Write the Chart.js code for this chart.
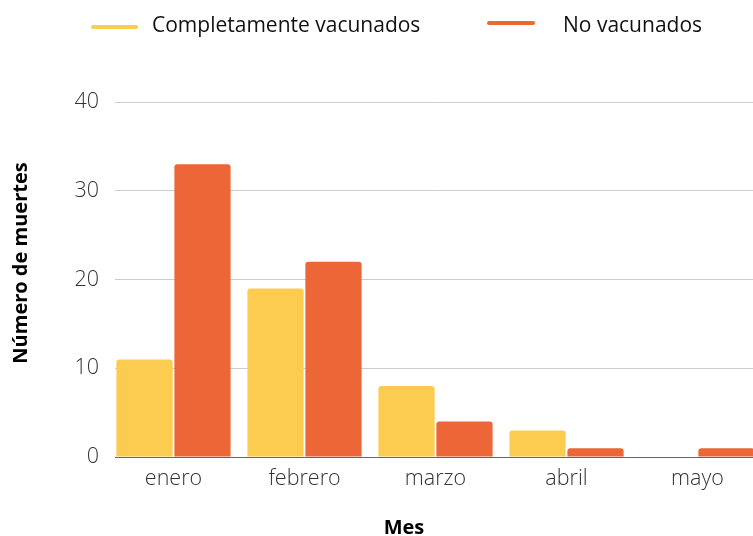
<!DOCTYPE html>
<html>
<head>
<meta charset="utf-8">
<script src="https://cdn.jsdelivr.net/npm/chart.js@4"></script>
<style>
  html, body { margin: 0; padding: 0; background: #fff; overflow: hidden; }
  #wrap { width: 770px; height: 536px; position: relative; }
</style>
</head>
<body>
<div id="wrap"><canvas id="grafico"></canvas></div>
<script>
const meses = ["enero", "febrero", "marzo", "abril", "mayo"];
const vacunados = [11, 19, 8, 3, 0];
const noVacunados = [33, 22, 4, 1, 1];
const etiquetasSeries = ["Completamente vacunados", "No vacunados"];
const ticksY = [0, 10, 20, 30, 40];
const tituloY = "Número de muertes";
const tituloX = "Mes";

const amarillo = "#FCCC50";
const naranja = "#EC6638";

// las lineas de la cuadricula empiezan un poco a la derecha del area
const recorteRejilla = {
    id: "recorteRejilla",
    beforeDatasetsDraw(chart) {
        const ctx = chart.ctx;
        const a = chart.chartArea;
        ctx.save();
        ctx.fillStyle = "#fff";
        ctx.fillRect(a.left - 1, a.top - 2, 8, a.bottom - a.top + 4);
        ctx.restore();
    }
};

// leyenda dibujada a mano (lineas cortas + texto) y titulos de ejes
const leyendaPlugin = {
    id: "leyendaLinea",
    afterDraw(chart) {
        const ctx = chart.ctx;
        const items = [
            {x1: 93, x2: 136, yl: 27, xt: 152},
            {x1: 489, x2: 533, yl: 23, xt: 563}
        ];
        ctx.save();
        chart.data.datasets.forEach((ds, i) => {
            const it = items[i];
            ctx.strokeStyle = ds.backgroundColor;
            ctx.lineWidth = 4;
            ctx.lineCap = "round";
            ctx.beginPath();
            ctx.moveTo(it.x1, it.yl);
            ctx.lineTo(it.x2, it.yl);
            ctx.stroke();
            ctx.fillStyle = "#111";
            ctx.font = "21px 'Open Sans'";
            ctx.textAlign = "left";
            ctx.textBaseline = "alphabetic";
            ctx.fillText(ds.label, it.xt, 32);
        });

        ctx.fillStyle = "#000";
        ctx.font = "bold 20px 'Open Sans'";
        ctx.textAlign = "center";
        ctx.fillText(tituloX, 404, 534);

        ctx.translate(27, 263);
        ctx.rotate(-Math.PI / 2);
        ctx.fillText(tituloY, 0, 0);
        ctx.restore();
    }
};

new Chart("grafico", {
    type: "bar",
    data: {
        labels: meses,
        datasets: [{
            label: etiquetasSeries[0],
            data: vacunados,
            backgroundColor: amarillo,
            borderRadius: 3,
            barPercentage: 0.97,
            categoryPercentage: 0.885
        }, {
            label: etiquetasSeries[1],
            data: noVacunados,
            backgroundColor: naranja,
            borderRadius: 3,
            barPercentage: 0.97,
            categoryPercentage: 0.885
        }]
    },
    options: {
        responsive: true,
        maintainAspectRatio: false,
        animation: false,
        layout: {padding: {top: 102, right: 7, bottom: 0, left: 0}},
        plugins: {
            legend: {display: false},
            tooltip: {enabled: false}
        },
        scales: {
            x: {
                grid: {display: false, drawTicks: false},
                border: {display: true, color: "#666", width: 1},
                ticks: {
                    color: "#333",
                    font: {family: "'Open Sans'", size: 21.5, weight: 300},
                    padding: 9
                },
                afterFit(scale) { scale.height = 79; }
            },
            y: {
                min: 0,
                max: 40,
                afterBuildTicks(scale) { scale.ticks = ticksY.map(v => ({value: v})); },
                grid: {color: "#ccc", lineWidth: 1, drawTicks: false},
                border: {display: false},
                ticks: {
                    color: "#333",
                    font: {family: "'Open Sans'", size: 21.5, weight: 300},
                    padding: 9
                },
                afterFit(scale) { scale.width = 108; }
            }
        }
    },
    plugins: [recorteRejilla, leyendaPlugin]
});
</script>
</body>
</html>
